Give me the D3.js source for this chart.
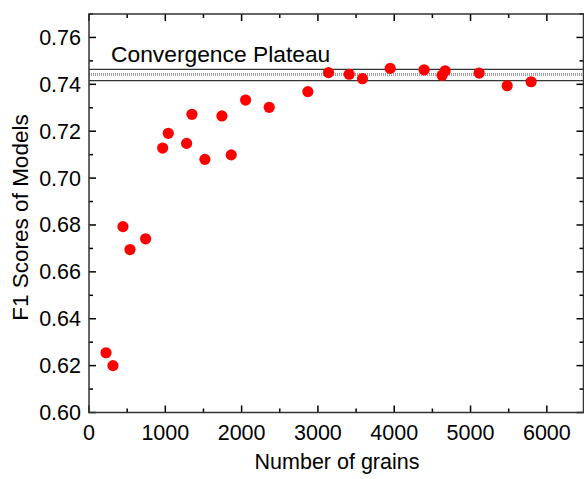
<!DOCTYPE html>
<html lang="en">
<head>
    <meta charset="UTF-8">
    <title>F1 Scores vs Number of grains</title>
    <script src="https://d3js.org/d3.v7.min.js"></script>
    <style>
        body { margin: 0; background: #fff; }
        text { font-family: "Liberation Sans", Arial, sans-serif; fill: #000; }
    </style>
</head>
<body>
    <svg width="584" height="479"></svg>
    <script>
        const width = 584, height = 479;

        // data
        const grains = [223, 314, 445, 537, 742, 965, 1039, 1279, 1349, 1519, 1742, 1864, 2052, 2362,
                        2868, 3139, 3410, 3584, 3947, 4392, 4628, 4667, 5113, 5480, 5794];
        const f1 = [0.6255, 0.6200, 0.6793, 0.6695, 0.6741, 0.7128, 0.7191, 0.7148, 0.7272, 0.7080,
                    0.7265, 0.7099, 0.7333, 0.7302, 0.7369, 0.7450, 0.7443, 0.7424, 0.7468, 0.7462,
                    0.7439, 0.7458, 0.7448, 0.7394, 0.7411];
        const plateauBounds = [0.7464, 0.7416];   // solid lines
        const plateauMeans = [0.7445, 0.7439];    // dotted lines
        const xTicks = [0, 1000, 2000, 3000, 4000, 5000, 6000];
        const yTicks = [0.60, 0.62, 0.64, 0.66, 0.68, 0.70, 0.72, 0.74, 0.76];

        const margin = { left: 89, right: 0, top: 14, bottom: 66.5 };
        const svg = d3.select("svg");

        const x = d3.scaleLinear().domain([0, 6500]).range([margin.left, 585]);
        const y = d3.scaleLinear().domain([0.60, 0.77]).range([height - margin.bottom, margin.top]);

        const x0 = x.range()[0], x1 = 583.5, y0 = y.range()[0], y1 = y.range()[1];

        // plateau lines
        const g = svg.append("g");
        g.selectAll("line.bound")
            .data(plateauBounds)
            .enter().append("line")
            .attr("x1", x0).attr("x2", x1)
            .attr("y1", d => y(d)).attr("y2", d => y(d))
            .attr("stroke", "#333").attr("stroke-width", 1.2);
        g.selectAll("line.mean")
            .data(plateauMeans)
            .enter().append("line")
            .attr("x1", x0).attr("x2", x1)
            .attr("y1", d => y(d)).attr("y2", d => y(d))
            .attr("stroke", "#555").attr("stroke-width", 0.9)
            .attr("stroke-dasharray", "1,1");

        svg.append("text")
            .attr("x", 111).attr("y", 62)
            .attr("font-size", 22.8)
            .text("Convergence Plateau");

        // points
        svg.append("g")
            .selectAll("circle")
            .data(grains.map((v, i) => ({ g: v, f: f1[i] })))
            .enter().append("circle")
            .attr("cx", d => x(d.g))
            .attr("cy", d => y(d.f))
            .attr("r", 5.6)
            .attr("fill", "#ff0000");

        // ticks (inward) on all four sides
        const minorX = d3.range(500, 6500, 1000);
        const minorY = d3.range(0.61, 0.77, 0.02);
        const tk = svg.append("g").attr("stroke", "#000").attr("stroke-width", 1.5);
        xTicks.forEach(v => {
            tk.append("line").attr("x1", x(v)).attr("x2", x(v)).attr("y1", y0).attr("y2", y0 - 7);
            tk.append("line").attr("x1", x(v)).attr("x2", x(v)).attr("y1", y1).attr("y2", y1 + 7);
        });
        minorX.forEach(v => {
            tk.append("line").attr("x1", x(v)).attr("x2", x(v)).attr("y1", y0).attr("y2", y0 - 4);
            tk.append("line").attr("x1", x(v)).attr("x2", x(v)).attr("y1", y1).attr("y2", y1 + 4);
        });
        yTicks.forEach(v => {
            tk.append("line").attr("x1", x0).attr("x2", x0 + 7).attr("y1", y(v)).attr("y2", y(v));
            tk.append("line").attr("x1", x1).attr("x2", x1 - 7).attr("y1", y(v)).attr("y2", y(v));
        });
        minorY.forEach(v => {
            tk.append("line").attr("x1", x0).attr("x2", x0 + 4).attr("y1", y(v)).attr("y2", y(v));
            tk.append("line").attr("x1", x1).attr("x2", x1 - 4).attr("y1", y(v)).attr("y2", y(v));
        });

        // frame
        svg.append("rect")
            .attr("x", x0).attr("y", y1)
            .attr("width", x1 - x0).attr("height", y0 - y1)
            .attr("fill", "none").attr("stroke", "#333").attr("stroke-width", 1.5);

        // tick labels
        svg.append("g").selectAll("text")
            .data(xTicks)
            .enter().append("text")
            .attr("x", d => x(d)).attr("y", y0 + 27)
            .attr("text-anchor", "middle")
            .attr("font-size", 21.5)
            .text(d => d);
        svg.append("g").selectAll("text")
            .data(yTicks)
            .enter().append("text")
            .attr("x", x0 - 8).attr("y", d => y(d) + 7.5)
            .attr("text-anchor", "end")
            .attr("font-size", 21.5)
            .text(d => d.toFixed(2));

        // axis titles
        svg.append("text")
            .attr("x", 337).attr("y", 469)
            .attr("text-anchor", "middle")
            .attr("font-size", 21.5)
            .text("Number of grains");
        svg.append("text")
            .attr("transform", "translate(28,217.5) rotate(-90)")
            .attr("text-anchor", "middle")
            .attr("font-size", 22.5)
            .text("F1 Scores of Models");
    </script>
</body>
</html>
